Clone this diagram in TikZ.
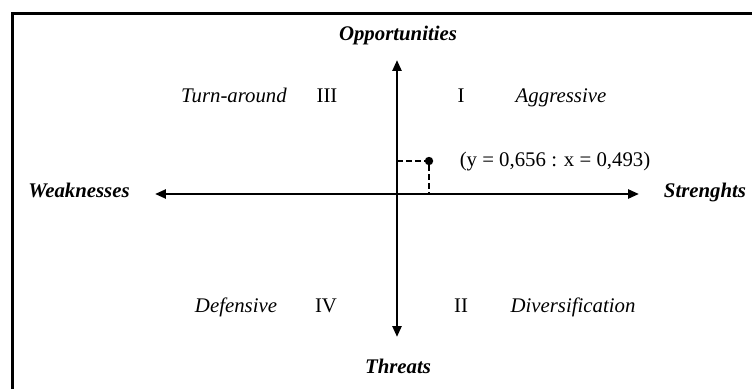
\documentclass[tikz,border=0pt]{standalone}
\usepackage{fontspec}
\setmainfont{Liberation Serif}
\usetikzlibrary{arrows.meta,positioning,calc}

\begin{document}
\begin{tikzpicture}[>={Triangle[length=0.27cm,width=0.22cm]}, line cap=butt,
  axis/.style={line width=0.062cm},
  side/.style={font=\fontsize{14.8}{16}\selectfont\bfseries\itshape, anchor=base, inner sep=0pt},
  quad/.style={font=\fontsize{14.8}{16}\selectfont\itshape, anchor=base, inner sep=0pt},
  num/.style={font=\fontsize{14.8}{16}\selectfont, anchor=base, inner sep=0pt},
  guide/.style={line width=0.038cm, dash pattern=on 0.14cm off 0.085cm}]

\useasboundingbox (0,0) rectangle (18.8,9.725);
\draw[line width=0.075cm] (0.3,0) |- (18.8,9.375);

% axes
\coordinate (o) at (9.925,4.875);
\coordinate (top) at (9.925,8.225);
\coordinate (bottom) at (9.925,1.3);
\coordinate (west) at (3.875,4.875);
\coordinate (east) at (15.975,4.875);
\draw[axis,<->] (west) -- (east);
\draw[axis,<->] (bottom) -- (top);

\node[side] (opp) at (9.95,8.7) {Opportunities};
\node[side] (thr) at (9.95,0.4) {Threats};
\node[side] (weak) at (1.975,4.775) {Weaknesses};
\node[side] (str) at (17.625,4.775) {Strenghts};

% quadrants
\node[quad] (turn) at (5.85,7.15) {Turn-around};
\node[num] (q3) at (8.175,7.15) {III};
\node[num] (q1) at (11.525,7.15) {I};
\node[quad] (aggr) at (14.025,7.15) {Aggressive};
\node[quad] (def) at (5.9,1.925) {Defensive};
\node[num] (q4) at (8.15,1.925) {IV};
\node[num] (q2) at (11.525,1.925) {II};
\node[quad] (div) at (14.325,1.925) {Diversification};

% position
\node[circle, fill, inner sep=0pt, minimum size=0.21cm] (pt) at (10.725,5.7) {};
\draw[guide] (o |- pt) -- (pt.west);
\draw[guide] (pt.south) -- (pt |- o);
\node[num] (val) at (13.875,5.55) {(y = 0,656 : x = 0,493)};

\end{tikzpicture}
\end{document}
